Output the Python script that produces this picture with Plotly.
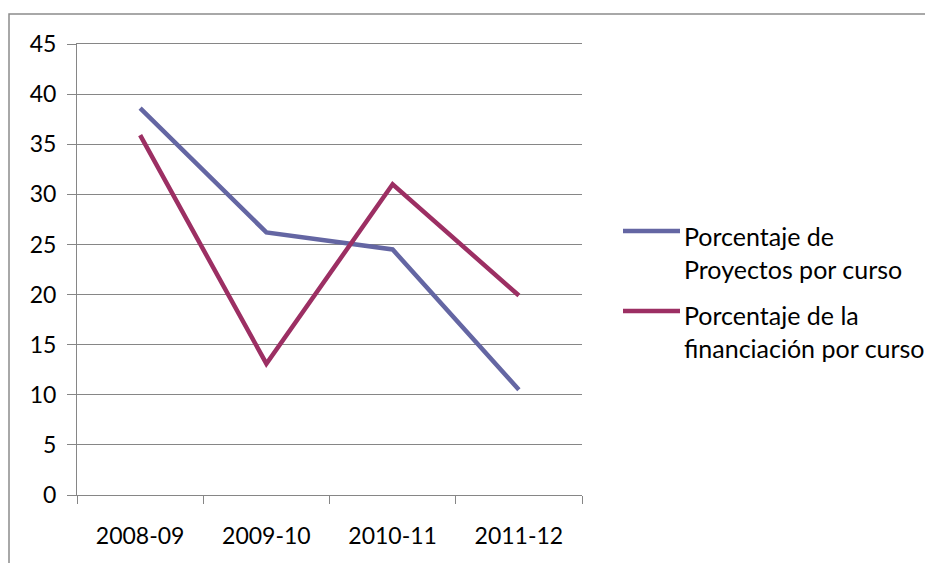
import plotly.graph_objects as go

categories = ["2008-09", "2009-10", "2010-11", "2011-12"]
proyectos = [38.6, 26.2, 24.5, 10.5]
financiacion = [35.9, 13.1, 31.0, 19.9]
series_names = ["Porcentaje de<br>Proyectos por curso", "Porcentaje de la<br>financiación por curso"]
series_colors = ["#6466A3", "#9C2F63"]
y_ticks = list(range(0, 46, 5))

W, H = 933, 563
OFF = 8  # page body margin offset
L, R, T, B = 77 - OFF, 582 - OFF, 44 - OFF, 495 - OFF
FONT = "Lato"

def px_x(px):
    return (px - OFF - L) / (R - L)

def px_y(py):
    return (B - (py - OFF)) / (B - T)

fig = go.Figure()
for name, vals, col in zip(series_names, [proyectos, financiacion], series_colors):
    fig.add_trace(go.Scatter(x=categories, y=vals, mode="lines", name=name,
                             line=dict(color=col, width=4.5), showlegend=False))

fig.update_layout(
    width=W, height=H,
    margin=dict(l=L, r=W - R, t=T, b=H - B, pad=0),
    paper_bgcolor="white", plot_bgcolor="white",
    font=dict(family=FONT, size=23, color="black"),
    xaxis=dict(type="category", range=[-0.5, 3.5], tickson="boundaries",
               ticks="outside", ticklen=8, tickcolor="#868686", tickwidth=1,
               showgrid=False, showline=True, mirror=True, linecolor="#868686",
               linewidth=1, zeroline=False, automargin=False,
               ticklabelstandoff=20),
    yaxis=dict(range=[0, 45], tickvals=y_ticks, ticks="outside", ticklen=9,
               tickcolor="#868686", tickwidth=1,
               showgrid=True, gridcolor="#868686", gridwidth=1,
               showline=True, linecolor="#868686", linewidth=1,
               zeroline=False, automargin=False, ticklabelstandoff=6),
)

shapes = []
# outer chart frame
shapes.append(dict(type="rect", xref="paper", yref="paper",
                   x0=px_x(9), x1=px_x(W + 60), y0=px_y(H + 60), y1=px_y(14),
                   line=dict(color="#8c8c8c", width=1.5), fillcolor="rgba(0,0,0,0)", layer="below"))
# legend symbols and labels
annotations = []
sym_y = [231, 311]
txt_y = [252, 331]
for name, col, sy, ty in zip(series_names, series_colors, sym_y, txt_y):
    shapes.append(dict(type="line", xref="paper", yref="paper",
                       x0=px_x(623), x1=px_x(680), y0=px_y(sy), y1=px_y(sy),
                       line=dict(color=col, width=4.5)))
    annotations.append(dict(xref="paper", yref="paper", x=px_x(682), y=px_y(ty),
                            xanchor="left", yanchor="middle", align="left",
                            text=name, showarrow=False,
                            font=dict(family=FONT, size=25, color="black")))
fig.update_layout(shapes=shapes, annotations=annotations)

fig.write_html("out.html")
